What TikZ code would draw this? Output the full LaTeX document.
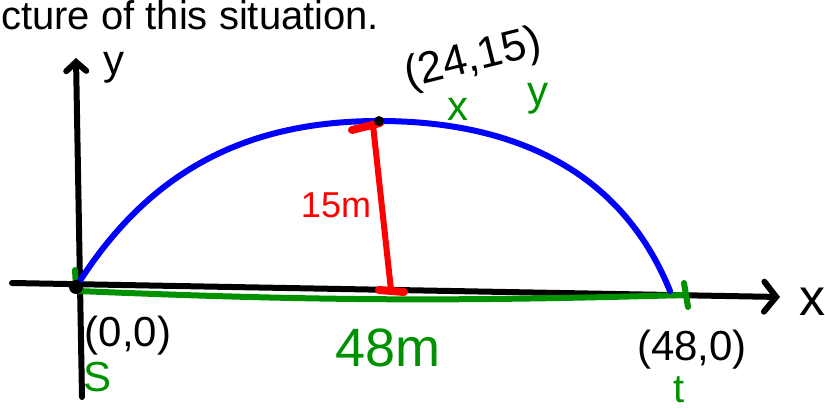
\documentclass[tikz,border=0pt]{standalone}
\usepackage{fontspec}
\setmainfont{Liberation Sans}
\usetikzlibrary{arrows.meta}
\definecolor{pen}{RGB}{0,145,0}

\begin{document}
\begin{tikzpicture}[
    x=1pt,y=1pt,
    ink/.style={line width=6pt,line cap=round,line join=round},
    ax/.style={ink,black},
    grn/.style={ink,draw=pen},
    hand/.style={inner sep=0pt,font=\fontsize{#1}{#1}\selectfont},
    hand/.default=42,
    blob/.style={circle,fill=black,inner sep=0pt,minimum size=#1},
  ]
    \useasboundingbox (0,0) rectangle (825,410);
    \node[anchor=base west,inner sep=0pt,font=\fontsize{40}{40}\selectfont]
      (title) at (1,380) {cture of this situation.};

    % axes
    \coordinate (ybot) at (82,13);
    \coordinate (ytop) at (76,352);
    \coordinate (xl) at (12,127);
    \coordinate (xr) at (780,113);
    \draw[ax,-{Straight Barb[length=9pt,width=20pt,line cap=round]}] (ybot) -- (ytop);
    \draw[ax,-{Straight Barb[length=12pt,width=30pt,line cap=round]}] (xl) -- (xr);
    \node[hand] (ylab) at (114,342) {y};
    \node[hand=52] (xlab) at (812,108) {x};

    % points
    \coordinate (O) at (76,123);
    \coordinate (E) at (670,119);
    \coordinate (P) at (379,289);
    \coordinate (F) at (391,120);

    % ground distance
    \coordinate (gs) at (78,119);
    \coordinate (ge) at (685,115);
    \draw[grn] (gs) to[bend right=2] (ge);
    \coordinate (tt) at (684,127);
    \coordinate (tb) at (688,103);
    \draw[grn] (tt) -- (tb);
    \coordinate (st) at (75,140);
    \draw[grn] (st) -- (O);

    % path of the ball
    \draw[ink,blue] (O) to[out=58,in=180] (P) to[out=0,in=112] (E);

    % height
    \coordinate (Ptop) at (373,285);
    \coordinate (h1) at (352,280);
    \coordinate (h2) at (380,287);
    \coordinate (f1) at (379,120);
    \coordinate (f2) at (404,118);
    \draw[ink,red] (Ptop) -- (F);
    \draw[ink,red,line width=8pt] (h1) -- (h2);
    \draw[ink,red,line width=8pt] (f1) -- (f2);
    \node[hand=36,text=red] (hgt) at (336,205) {15m};

    \node[blob=14pt] (Odot) at (O) {};
    \node[blob=10pt] (Pdot) at (P) {};

    % labels
    \node[hand=44,rotate=14] (Plab) at (473,350) {(24,15)};
    \node[hand,text=pen] (px) at (458,301) {x};
    \node[hand,text=pen] (py) at (538,311) {y};
    \node[hand] (Olab) at (128,74) {(0,0)};
    \node[hand,text=pen] (s) at (98,33) {S};
    \node[hand=54,text=pen] (dist) at (388,62) {48m};
    \node[hand] (Elab) at (692,60) {(48,0)};
    \node[hand=40,text=pen] (t) at (679,20) {t};
\end{tikzpicture}
\end{document}
